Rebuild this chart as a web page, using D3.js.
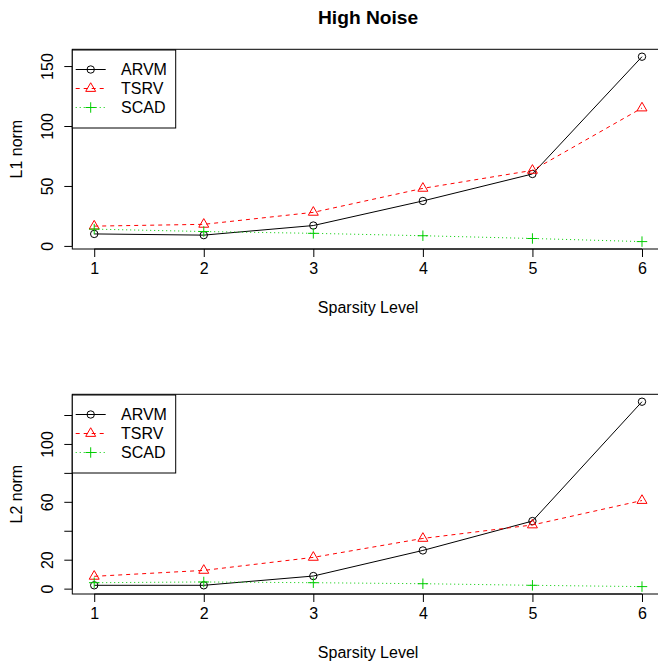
<!DOCTYPE html>
<html>
<head>
<meta charset="utf-8">
<script src="https://cdn.jsdelivr.net/npm/d3@7/dist/d3.min.js"></script>
<style>
  html, body { margin: 0; padding: 0; background: #fff; }
  svg { display: block; font-family: "Liberation Sans", Arial, sans-serif; }
</style>
</head>
<body>
<svg id="chart" width="658" height="662"></svg>
<script>
// Sparsity levels on the x axis
const sparsity = [1, 2, 3, 4, 5, 6];

// L1 norm errors
const l1ARVM = [10, 9, 17, 37.5, 60, 157.8];
const l1TSRV = [16.5, 18, 28, 48, 63, 115];
const l1SCAD = [14, 12, 10.5, 8.5, 6.2, 3.6];

// L2 norm errors
const l2ARVM = [2.3, 2.3, 8.7, 26.4, 46.7, 129.2];
const l2TSRV = [8.5, 12.6, 21.6, 34.7, 44, 60.9];
const l2SCAD = [4.1, 4.6, 4.1, 3.4, 2.3, 1.4];

// Axis ticks and the labels printed beside them
const l1Ticks = [0, 50, 100, 150];
const l1TickLabels = ["0", "50", "100", "150"];
const l2Ticks = [0, 20, 40, 60, 80, 100, 120];
const l2TickLabels = ["0", "20", "", "60", "", "100", ""];

const methodNames = ["ARVM", "TSRV", "SCAD"];
const methodColors = ["#000000", "#FF0000", "#00CD00"];
const methodDash = [null, "4,4", "1,3"];
const methodShapes = ["circle", "triangle", "plus"];

const svg = d3.select("#chart");
const R = 3.7; // base symbol radius

function drawSymbol(g, shape, x, y, color) {
  if (shape === "circle") {
    g.append("circle").attr("cx", x).attr("cy", y).attr("r", R)
      .attr("fill", "none").attr("stroke", color).attr("stroke-width", 1);
  } else if (shape === "triangle") {
    const r = 1.555 * R, xc = 1.347 * R, yc = 0.778 * R;
    g.append("path")
      .attr("d", `M${x},${y - r}L${x + xc},${y + yc}L${x - xc},${y + yc}Z`)
      .attr("fill", "none").attr("stroke", color).attr("stroke-width", 1);
  } else {
    const h = 1.414 * R;
    g.append("path")
      .attr("d", `M${x - h},${y}H${x + h}M${x},${y - h}V${y + h}`)
      .attr("fill", "none").attr("stroke", color).attr("stroke-width", 1);
  }
}

// R-style padded domain: 4% on each side
function padded(lo, hi) {
  const d = (hi - lo) * 0.04;
  return [lo - d, hi + d];
}

const left = 72.3, right = 663.9;
const x = d3.scaleLinear().domain(padded(1, 6)).range([left, right]);

function drawPanel(top, bottom, series, ticks, tickLabels, yTitle) {
  const all = series.flat();
  const y = d3.scaleLinear()
    .domain(padded(d3.min(all), d3.max(all)))
    .range([bottom, top]);

  const g = svg.append("g");

  // Data lines and symbols
  series.forEach((vals, i) => {
    const line = d3.line().x((d, j) => x(sparsity[j])).y(d => y(d));
    g.append("path").datum(vals)
      .attr("d", line)
      .attr("fill", "none")
      .attr("stroke", methodColors[i])
      .attr("stroke-width", 1)
      .attr("stroke-dasharray", methodDash[i]);
    vals.forEach((v, j) => drawSymbol(g, methodShapes[i], x(sparsity[j]), y(v), methodColors[i]));
  });

  // Plot frame
  g.append("rect")
    .attr("x", left).attr("y", top)
    .attr("width", right - left).attr("height", bottom - top)
    .attr("fill", "none").attr("stroke", "#000").attr("stroke-width", 1);

  // x axis
  const xAxis = d3.axisBottom(x).tickValues(sparsity).tickSize(8).tickPadding(6)
    .tickFormat(d3.format("d"));
  const xg = g.append("g").attr("transform", `translate(0,${bottom})`).call(xAxis);
  xg.select(".domain").attr("d", `M${x(1)},0H${x(6)}`);
  xg.selectAll("text").attr("font-size", 16).attr("font-family", "Liberation Sans, Arial, sans-serif")
    .attr("fill", "#000");
  xg.selectAll("line").attr("stroke", "#000");

  // y axis with vertical labels
  const yAxis = d3.axisLeft(y).tickValues(ticks).tickSize(8)
    .tickFormat((d, i) => tickLabels[i]);
  const yg = g.append("g").attr("transform", `translate(${left},0)`).call(yAxis);
  yg.select(".domain").attr("d", `M0,${y(ticks[0])}V${y(ticks[ticks.length - 1])}`);
  yg.selectAll("line").attr("stroke", "#000");
  yg.selectAll("text")
    .attr("font-size", 16).attr("font-family", "Liberation Sans, Arial, sans-serif")
    .attr("fill", "#000")
    .attr("x", null).attr("dy", null)
    .attr("text-anchor", "middle")
    .attr("transform", "translate(-19.3,0) rotate(-90)");

  // Axis titles
  g.append("text")
    .attr("x", (left + right) / 2).attr("y", bottom + 64)
    .attr("text-anchor", "middle").attr("font-size", 16)
    .text("Sparsity Level");
  g.append("text")
    .attr("transform", `translate(22,${(top + bottom) / 2}) rotate(-90)`)
    .attr("text-anchor", "middle").attr("font-size", 16)
    .text(yTitle);

  // Legend
  const lt = top + 0.7;
  const lg = g.append("g");
  lg.append("rect").attr("x", left).attr("y", lt)
    .attr("width", 175.7 - left).attr("height", 78)
    .attr("fill", "#fff").attr("stroke", "#000").attr("stroke-width", 1);
  methodNames.forEach((name, i) => {
    const ry = lt + 19.5 + i * 19;
    lg.append("line").attr("x1", 75.7).attr("x2", 105.7).attr("y1", ry).attr("y2", ry)
      .attr("stroke", methodColors[i]).attr("stroke-width", 1)
      .attr("stroke-dasharray", methodDash[i]);
    drawSymbol(lg, methodShapes[i], 90.7, ry, methodColors[i]);
    lg.append("text").attr("x", 121).attr("y", ry + 5.8)
      .attr("font-size", 16).text(name);
  });
}

drawPanel(49.3, 249, [l1ARVM, l1TSRV, l1SCAD], l1Ticks, l1TickLabels, "L1 norm");
drawPanel(394.3, 594, [l2ARVM, l2TSRV, l2SCAD], l2Ticks, l2TickLabels, "L2 norm");

// Main title
svg.append("text")
  .attr("x", (left + right) / 2).attr("y", 24)
  .attr("text-anchor", "middle")
  .attr("font-size", 19.2).attr("font-weight", "bold")
  .text("High Noise");
</script>
</body>
</html>
